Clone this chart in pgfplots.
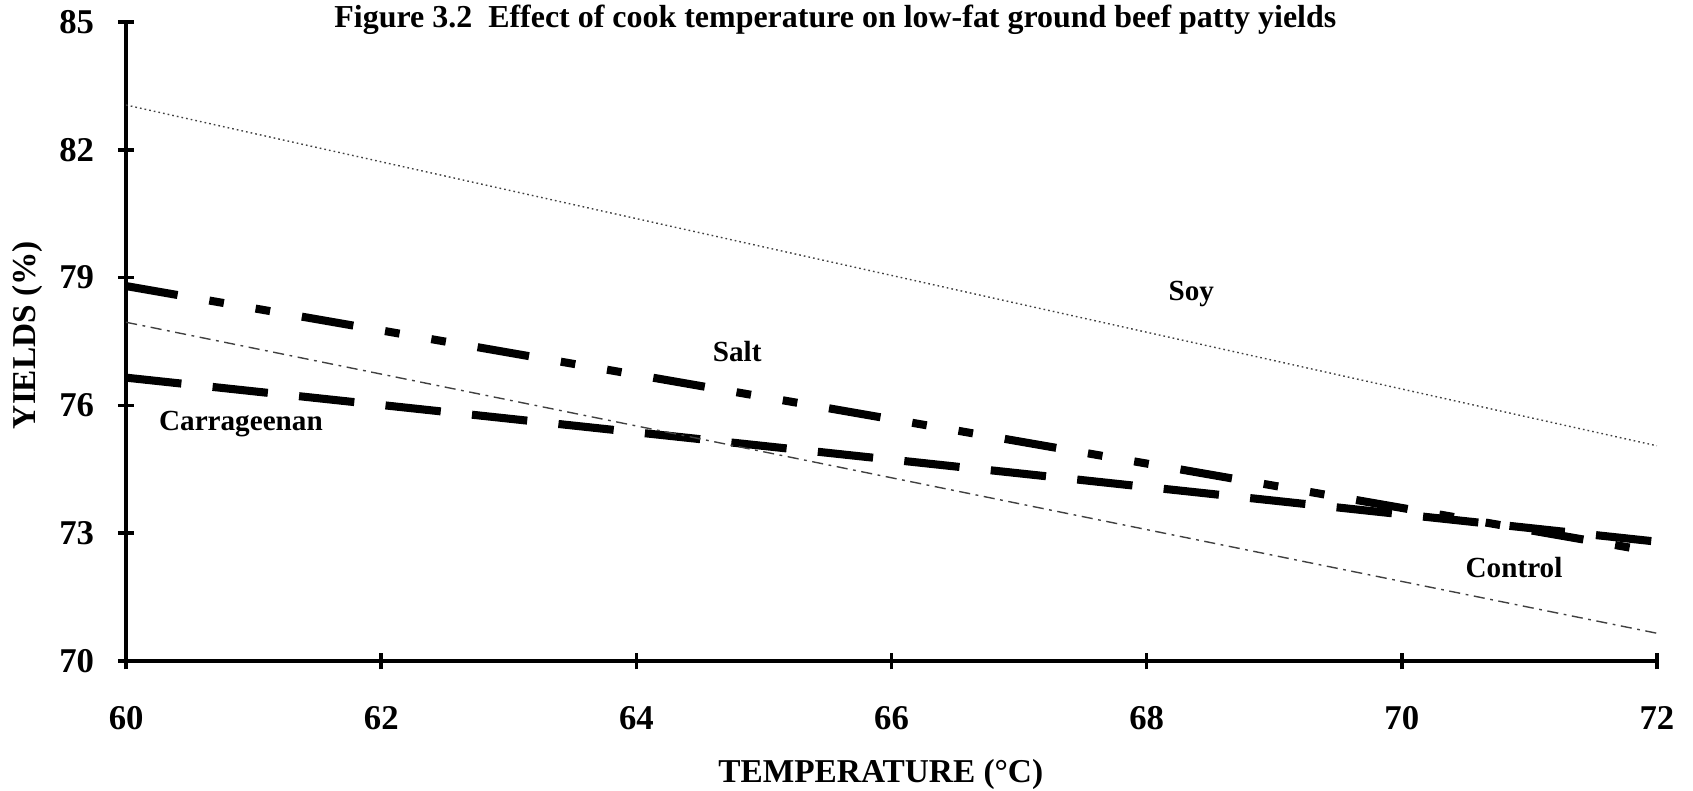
\documentclass[border=0pt]{standalone}
\usepackage{pgfplots}
\pgfplotsset{compat=1.18}
\usepackage{fontspec}
\setmainfont{Liberation Serif}
\begin{document}
\begin{tikzpicture}
\begin{axis}[
  scale only axis,
  width=551pt, height=230pt,
  xmin=60, xmax=72, ymin=70, ymax=85,
  xtick={60,62,...,72}, ytick={70,73,...,85},
  axis x line*=bottom, axis y line*=left,
  axis line style={line width=1.5pt,-},
  tick align=center,
  major tick length=6pt,
  tick style={line width=1.3pt,black},
  /pgf/number format/assume math mode=true,
  ticklabel style={font=\fontsize{12.5}{15}\selectfont\bfseries},
  yticklabel style={xshift=-5pt},
  xticklabel style={yshift=-10pt},
  xlabel={TEMPERATURE (°C)},
  ylabel={YIELDS (\%)},
  label style={font=\fontsize{12}{14}\selectfont\bfseries},
  xlabel style={at={(rel axis cs:0.493,-0.178)},anchor=center},
  ylabel style={at={(rel axis cs:-0.0646,0.51)},anchor=center},
  clip=false,
]
\addplot[black!75, line width=0.5pt, dash pattern=on 0.6pt off 1.1pt] coordinates {(60,83.05) (72,75.05)};
\addplot[black, line width=2.9pt, dash pattern=on 18.8pt off 11.6pt on 5.3pt off 11.6pt on 5.3pt off 11.6pt] coordinates {(60,78.8) (72,72.55)};
\addplot[black, line width=2.9pt, dash pattern=on 20pt off 11.3pt] coordinates {(60,76.65) (72,72.8)};
\addplot[black!75, line width=0.5pt, dash pattern=on 4pt off 2pt on 1pt off 2pt] coordinates {(60,77.95) (72,70.65)};
\node[font=\fontsize{10.5}{12}\selectfont\bfseries, anchor=base] at (axis cs:68.35,78.47) {Soy};
\node[font=\fontsize{10.5}{12}\selectfont\bfseries, anchor=base] at (axis cs:64.79,77.02) {Salt};
\node[font=\fontsize{10.5}{12}\selectfont\bfseries, anchor=base] at (axis cs:60.90,75.42) {Carrageenan};
\node[font=\fontsize{10.5}{12}\selectfont\bfseries, anchor=base] at (axis cs:70.88,71.97) {Control};
\node[font=\fontsize{11.5}{13}\selectfont\bfseries, anchor=base] at (axis cs:65.56,84.88) {Figure 3.2\ \ Effect of cook temperature on low-fat ground beef patty yields};
\coordinate (SW) at (rel axis cs:0,0);
\coordinate (NE) at (rel axis cs:1,1);
\end{axis}
\pgfresetboundingbox
\path ([shift={(-45.4pt,-46.8pt)}]SW) rectangle ([shift={(13pt,7.9pt)}]NE);
\end{tikzpicture}
\end{document}
